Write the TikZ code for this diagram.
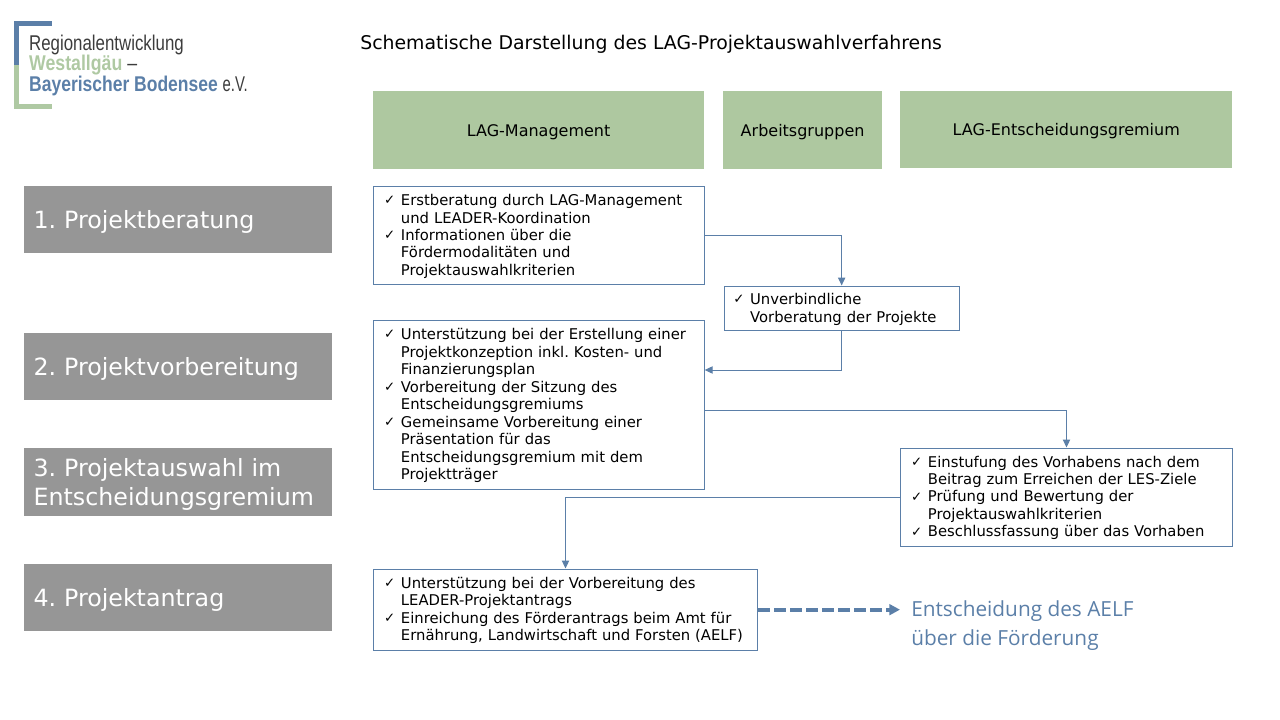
\documentclass[tikz,border=0pt]{standalone}
\usepackage{fontspec}
\setmainfont{DejaVu Sans}
\newfontfamily\logofont{Liberation Sans}
\newfontfamily\noteFont{Open Sans}
\usetikzlibrary{positioning,arrows.meta}
\definecolor{headgreen}{HTML}{AEC8A0}
\definecolor{stepgray}{HTML}{969696}
\definecolor{lineblue}{HTML}{5B7FA8}
\definecolor{logogreen}{HTML}{AFC9A3}
\definecolor{logogray}{HTML}{3C3C3C}
\newcommand{\chk}[1]{\makebox[12.6pt][l]{\raisebox{.6pt}{\fontsize{10}{10}\selectfont ✓}}#1}
\newcommand{\cnt}[1]{\hspace*{12.6pt}#1}
\frenchspacing
\tikzset{
  head/.style={fill=headgreen,anchor=north west,text height=11.2pt,font=\fontsize{12}{14}\selectfont},
  phase/.style={fill=stepgray,text=white,anchor=north west,align=left,inner sep=7pt,
    minimum width=231pt,text width=217pt,minimum height=50pt,
    execute at begin node={\rule{0pt}{16.5pt}},
    font=\fontsize{17.8}{21.4}\selectfont},
  note/.style={draw=lineblue,line width=.75pt,fill=white,anchor=north west,align=left,
    inner xsep=8pt,inner ysep=0pt,execute at begin node={\rule{0pt}{9.8pt}},
    font=\fontsize{11.1}{13.1}\selectfont},
  flow/.style={draw=lineblue,line width=.75pt,-{Triangle[length=6pt,width=5.5pt]}},
  logotext/.style={anchor=west,inner sep=0pt,xscale=#1,transform shape,font=\logofont\fontsize{16}{16}\selectfont},
  logotext/.default=.79
}
\begin{document}
\begin{tikzpicture}[x=.75pt,y=-.75pt]
  \useasboundingbox (0,0) rectangle (1280,720);
  % Logo
  \fill[lineblue] (14,21) rectangle (52,26);
  \fill[lineblue] (14,21) rectangle (19,65);
  \fill[logogreen] (14,65) rectangle (19,109);
  \fill[logogreen] (14,104) rectangle (52,109);
  \node[logotext,text=logogray] (logo1) at (29,45) {Regionalentwicklung};
  \node[logotext=.83,text=logogreen] (logo2) at (29,65) {\textbf{Westallgäu} \textcolor{logogray}{–}};
  \node[logotext=.82,text=lineblue] (logo3) at (29,86) {\textbf{Bayerischer Bodensee} \textcolor{logogray}{\scalebox{.85}[1]{e.V.}}};
  % Title
  \node[anchor=west,inner sep=0pt,font=\fontsize{14.15}{16}\selectfont] (title) at (360,44)
    {Schematische Darstellung des LAG-Projektauswahlverfahrens};
  % Column heads
  \node[head,minimum width=248pt,minimum height=58.5pt,inner sep=0pt] (lagman) at (373,91) {LAG-Management};
  \node[head,minimum width=119pt,minimum height=58.5pt,inner sep=0pt] (groups) at (723,91) {Arbeitsgruppen};
  \node[head,minimum width=249pt,minimum height=57.75pt,inner sep=0pt] (board) at (900,91) {LAG-Entscheidungsgremium};
  % Phases on the left
  \node[phase] (phase1) at (24,186) {1. Projektberatung};
  \node[phase] (phase2) at (24,333) {2. Projektvorbereitung};
  \node[phase,inner ysep=0pt,minimum height=51pt] (phase3) at (24,448) {3. Projektauswahl im\\Entscheidungsgremium};
  \node[phase] (phase4) at (24,564) {4. Projektantrag};
  % Text boxes
  \node[note,text width=232pt,minimum height=73.5pt] (box1) at (373,186)
    {\chk{Erstberatung durch LAG-Management}\\
     \cnt{und LEADER-Koordination}\\
     \chk{Informationen über die}\\
     \cnt{Fördermodalitäten und}\\
     \cnt{Projektauswahlkriterien}};
  \node[note,inner xsep=7pt,text width=162.5pt,minimum height=33.5pt] (box2) at (723.5,285.5)
    {\chk{Unverbindliche}\\\cnt{Vorberatung der Projekte}};
  \node[note,text width=232pt,minimum height=127pt] (box3) at (373,319.5)
    {\chk{Unterstützung bei der Erstellung einer}\\
     \cnt{Projektkonzeption inkl. Kosten- und}\\
     \cnt{Finanzierungsplan}\\
     \chk{Vorbereitung der Sitzung des}\\
     \cnt{Entscheidungsgremiums}\\
     \chk{Gemeinsame Vorbereitung einer}\\
     \cnt{Präsentation für das}\\
     \cnt{Entscheidungsgremium mit dem}\\
     \cnt{Projektträger}};
  \node[note,text width=233pt,minimum height=73.5pt] (box4) at (900,447.5)
    {\chk{Einstufung des Vorhabens nach dem}\\
     \cnt{Beitrag zum Erreichen der LES-Ziele}\\
     \chk{Prüfung und Bewertung der}\\
     \cnt{Projektauswahlkriterien}\\
     \chk{Beschlussfassung über das Vorhaben}};
  \node[note,text width=272pt,minimum height=61pt] (box5) at (373,568.5)
    {\chk{Unterstützung bei der Vorbereitung des}\\
     \cnt{LEADER-Projektantrags}\\
     \chk{Einreichung des Förderantrags beim Amt für}\\
     \cnt{Ernährung, Landwirtschaft und Forsten (AELF)}};
  % Decision text
  \node[anchor=west,inner sep=0pt,align=left,text=lineblue,font=\noteFont\fontsize{15.6}{21.8}\selectfont] (decision) at (911,626)
    {Entscheidung des AELF\\über die Förderung};
  % Connectors
  \coordinate (in3) at (box3.east |- 0,370);
  \coordinate (out3) at (box3.east |- 0,410);
  \coordinate (endDash) at (box5.east -| box4.west);
  \draw[flow] (box1.east) -| (box2.north);
  \draw[flow] (box2.south) |- (in3);
  \draw[flow] (out3) -| (box4.north);
  \draw[flow] (box4.west) -| (box5.north);
  \draw[draw=lineblue,line width=2.8pt,dash pattern=on 9pt off 3pt,-{Triangle[length=8pt,width=8pt]}] (box5.east) -- (endDash);
\end{tikzpicture}
\end{document}
